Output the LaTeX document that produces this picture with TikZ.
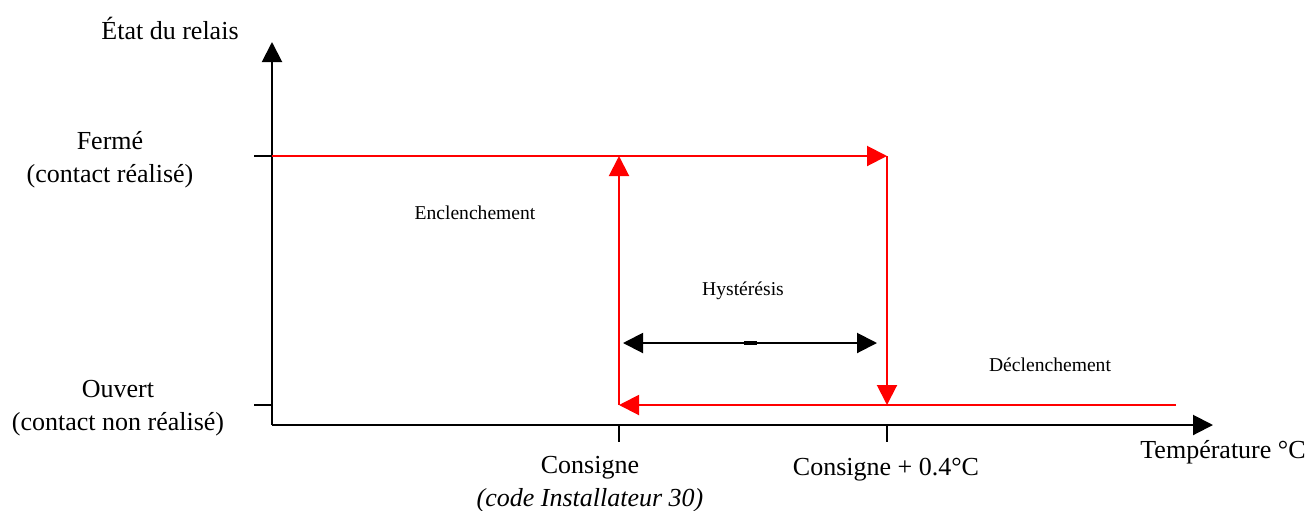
\documentclass[tikz,border=0pt]{standalone}
\usepackage{fontspec}
\setmainfont{Liberation Serif}
\usetikzlibrary{arrows.meta}

\begin{document}
\begin{tikzpicture}[x=0.5pt, y=-0.5pt,
    tip/.style={-{Triangle[length=10pt,width=10pt]}},
    big/.style={font=\fontsize{13}{16.5}\selectfont, inner sep=0pt, align=center},
    small/.style={font=\fontsize{9.8}{12}\selectfont, inner sep=0pt}]
    \useasboundingbox (0,0) rectangle (1312,510);
    % axes
    \coordinate (o) at (272,425);
    \coordinate (ytop) at (272,42);
    \coordinate (xend) at (1213,425);
    \draw[line width=1pt, tip] (o) -- (ytop);
    \draw[line width=1pt, tip] (o) -- (xend);
    % ticks
    \foreach \name/\y in {ferme/156, ouvert/405} {
      \coordinate (\name) at (272,\y);
      \coordinate (\name t) at (254,\y);
      \draw[line width=0.8pt] (\name t) -- (\name);
    }
    \foreach \name/\x in {cons/619, consp/887} {
      \coordinate (\name) at (\x,425);
      \coordinate (\name t) at (\x,442);
      \draw[line width=0.8pt] (\name) -- (\name t);
    }
    % relay cycle
    \coordinate (a) at (619,405);
    \coordinate (b) at (619,156);
    \coordinate (c) at (887,156);
    \coordinate (d) at (887,405);
    \coordinate (e) at (1176,405);
    \draw[red, line width=1pt, tip] (ferme) -- (c);
    \draw[red, line width=1pt, tip] (c) -- (d);
    \draw[red, line width=1pt, tip] (e) -- (a);
    \draw[red, line width=1pt, tip] (a) -- (b);
    % hysteresis
    \coordinate (h1) at (623,343);
    \coordinate (h2) at (877,343);
    \draw[line width=1pt, {Triangle[length=10pt,width=10pt]}-{Triangle[length=10pt,width=10pt]}] (h1) -- (h2);
    \coordinate (m1) at (744,343);
    \coordinate (m2) at (757,343);
    \draw[line width=1.6pt] (m1) -- (m2);
    % labels
    \node[big] (etat) at (170,28) {État du relais};
    \node[big] (fermelbl) at (110,160) {Fermé\\(contact réalisé)};
    \node[big] (ouvertlbl) at (118,408) {Ouvert\\(contact non réalisé)};
    \node[small] (encl) at (475,213) {Enclenchement};
    \node[small] (hyst) at (743,291) {Hystérésis};
    \node[small] (decl) at (1050,365) {Déclenchement};
    \node[big] (conslbl) at (590,484) {Consigne\\\textit{(code Installateur 30)}};
    \node[big] (consplbl) at (886,470) {Consigne + 0.4°C};
    \node[big] (temp) at (1223,452) {Température °C};
\end{tikzpicture}
\end{document}
